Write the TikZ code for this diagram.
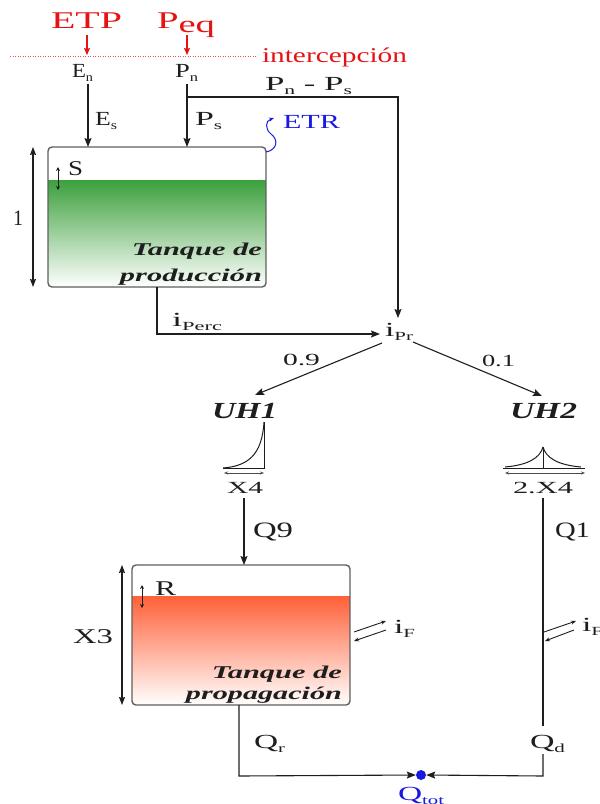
\documentclass[tikz,border=0pt]{standalone}
\usepackage{fontspec}
\setmainfont{Liberation Serif}
\usepackage{graphicx}
\usetikzlibrary{arrows.meta}
\newcommand\lsub[1]{\raisebox{-0.22em}{\scalebox{0.62}{#1}}}
\newcommand\fw[2]{\resizebox{#1pt}{\height}{#2}}
\definecolor{myred}{RGB}{228,20,20}
\definecolor{myblue}{RGB}{25,25,225}
\definecolor{ink}{RGB}{30,30,30}
\definecolor{tankline}{RGB}{95,95,95}
\definecolor{green1}{RGB}{60,160,60}
\definecolor{green2}{RGB}{125,195,125}
\definecolor{orange1}{RGB}{255,96,56}
\definecolor{orange2}{RGB}{255,150,118}
\begin{document}
\begin{tikzpicture}[x=1pt,y=-1pt,
  lbl/.style={inner sep=0pt, outer sep=0pt, anchor=base west, text=ink, font=\fontsize{20}{24}\selectfont},
  lblr/.style={lbl, anchor=base east},
  tit/.style={lblr, font=\fontsize{18}{22}\selectfont\bfseries\itshape},
  uhlbl/.style={lbl, font=\fontsize{23}{27}\selectfont\bfseries\itshape},
  small/.style={lbl, font=\fontsize{17}{20}\selectfont},
  big/.style={lbl, font=\fontsize{22}{26}\selectfont},
  conn/.style={draw=ink, line width=1.1pt},
  arr/.style={conn, -{Stealth[length=9pt,width=7pt,inset=1.5pt]}},
  redarr/.style={draw=myred, line width=1.1pt, -{Stealth[length=7pt,width=6pt,inset=1pt]}},
  dimarr/.style={draw=ink, line width=1.1pt, {Stealth[length=8pt,width=6pt,inset=1pt]}-{Stealth[length=8pt,width=6pt,inset=1pt]}},
  levarr/.style={draw=ink, line width=0.9pt, {Stealth[length=4pt,width=4pt]}-{Stealth[length=4pt,width=4pt]}},
  uharr/.style={draw=ink!80, line width=0.8pt, {Stealth[length=4pt,width=3pt]}-{Stealth[length=4pt,width=3pt]}},
  graph/.style={draw=ink, line width=1pt},
  exarr/.style={draw=ink, line width=0.9pt, -{Stealth[length=5pt,width=4pt]}},
  tankbox/.style={draw=tankline, line width=1.4pt, rounded corners=4pt, minimum width=218pt, minimum height=140pt, inner sep=0pt, outer sep=0pt}
]
\useasboundingbox (0,0) rectangle (600,804);

% ---------- top inputs ----------
\node[lbl, text=myred, font=\fontsize{24}{28}\selectfont] (etp) at (51,28) {\fw{71}{ETP}};
\node[lbl, text=myred, font=\fontsize{24}{28}\selectfont] (peq) at (157,28) {\fw{58}{P\raisebox{-4pt}{eq}}};
\coordinate (dl) at (10,56);
\coordinate (dr) at (256,56);
\draw[draw=myred!75, line width=0.9pt, dash pattern=on 1.2pt off 1.3pt] (dl) -- (dr);
\node[lbl, text=myred, font=\fontsize{21}{25}\selectfont] (interc) at (262,62) {\fw{145}{intercepción}};
\coordinate (etp-a) at (87,35);
\coordinate (etp-b) at (87,55);
\coordinate (peq-a) at (187,35);
\coordinate (peq-b) at (187,55);
\draw[redarr] (etp-a) -- (etp-b);
\draw[redarr] (peq-a) -- (peq-b);

\node[lbl] (en) at (72,77) {\fw{21}{E\lsub{n}}};
\node[lbl] (pn) at (175,77) {\fw{23}{P\lsub{n}}};
\node[lbl] (es) at (95,125) {\fw{22}{E\lsub{s}}};
\node[lbl] (ps) at (195,125) {\fw{27}{P\lsub{s}}};
\node[lbl] (pnps) at (265,90) {\fw{87}{P\lsub{n} - P\lsub{s}}};
\node[lbl, text=myblue] (etr) at (283,128) {\fw{57}{ETR}};

% ---------- production tank ----------
\begin{scope}
  \clip[rounded corners=4pt] (48,147) rectangle (266,287);
  \shade[top color=green1, middle color=green2, bottom color=white] (48,180) rectangle (266,287);
\end{scope}
\node[tankbox] (prod) at (157,217) {};
\node[tit] (prod1) at (262,255) {\fw{130}{Tanque de}};
\node[tit] (prod2) at (262,281) {\fw{142}{producción}};
\node[lbl, font=\fontsize{21}{25}\selectfont] (slbl) at (68,175) {\fw{15}{S}};
\node[lbl, font=\fontsize{22}{26}\selectfont] (one) at (13,225) {\fw{10}{1}};
\coordinate (s-a) at (58,167);
\coordinate (s-b) at (58,190);
\draw[levarr] (s-a) -- (s-b);
\draw[dimarr] ([xshift=-15pt]prod.north west) -- ([xshift=-15pt]prod.south west);

\coordinate (en-out) at (88,84);
\coordinate (pn-out) at (187,84);
\coordinate (pn-br) at (187,97);
\coordinate (br-corner) at (398,97);
\draw[arr] (en-out) -- (en-out |- prod.north);
\draw[arr] (pn-out) -- (pn-out |- prod.north);

% ETR squiggle
\coordinate (etr-s) at (266,152);
\coordinate (etr-m) at (271,134);
\coordinate (etr-e) at (274,118);
\draw[draw=myblue, line width=1pt, -{Stealth[length=5pt,width=4pt]}] (etr-s) .. controls (277,150) and (279,140) .. (etr-m) .. controls (265,129) and (265,121) .. (etr-e);

% ---------- routing ----------
\node[lbl] (ipr) at (385,336) {\fw{28}{i\lsub{Pr}}};
\draw[arr] (pn-br) -- (br-corner) -- (br-corner |- 0,318);
\coordinate (perc-a) at (157,287);
\coordinate (perc-c) at (157,334);
\coordinate (perc-e) at (380,334);
\draw[arr] (perc-a) -- (perc-c) -- (perc-e);
\node[lbl] (iperc) at (172,326) {\fw{50}{i\lsub{Perc}}};

\node[small] (p09) at (283,365) {\fw{37}{0.9}};
\node[small] (p01) at (482,366) {\fw{33}{0.1}};
\node[uhlbl] (uh1) at (212,418) {\fw{65}{UH1}};
\node[uhlbl] (uh2) at (510,418) {\fw{67}{UH2}};
\coordinate (ipr-l) at (382,343);
\coordinate (uh1-in) at (255,395);
\coordinate (ipr-r) at (413,342);
\coordinate (uh2-in) at (542,396);
\draw[arr] (ipr-l) -- (uh1-in);
\draw[arr] (ipr-r) -- (uh2-in);

% UH1 shape
\coordinate (u1-o) at (223,468);
\coordinate (u1-c) at (264,468);
\coordinate (u1-t) at (264,422);
\draw[graph] (u1-o) -- (u1-c) -- (u1-t);
\draw[graph] (u1-o) .. controls (248,466) and (262,455) .. (u1-t);
\coordinate (u1-al) at (224,473);
\coordinate (u1-ar) at (264,473);
\draw[uharr] (u1-al) -- (u1-ar);
\node[small] (x4) at (227,493) {\fw{36}{X4}};

% UH2 shape
\coordinate (u2-l) at (503,468);
\coordinate (u2-r) at (585,468);
\coordinate (u2-c) at (543,468);
\coordinate (u2-t) at (543,447);
\draw[graph] (u2-l) -- (u2-r);
\draw[graph] (u2-c) -- (u2-t);
\draw[graph] (505,467) .. controls (528,465) and (540,458) .. (u2-t);
\draw[graph] (581,467) .. controls (558,465) and (546,458) .. (u2-t);
\coordinate (u2-al) at (505,473);
\coordinate (u2-ar) at (585,473);
\draw[uharr] (u2-al) -- (u2-ar);
\node[small] (x42) at (513,493) {\fw{60}{2.X4}};

% ---------- propagation tank ----------
\begin{scope}
  \clip[rounded corners=4pt] (132,565) rectangle (350,705);
  \shade[top color=orange1, middle color=orange2, bottom color=white] (132,596) rectangle (350,705);
\end{scope}
\node[tankbox] (prop) at (241,635) {};
\node[tit] (prop1) at (342,678) {\fw{130}{Tanque de}};
\node[tit] (prop2) at (342,699) {\fw{156}{propagación}};
\node[lbl, font=\fontsize{21}{25}\selectfont] (rlbl) at (155,595) {\fw{21}{R}};
\node[lbl, font=\fontsize{21}{25}\selectfont] (x3) at (73,643) {\fw{40}{X3}};
\coordinate (r-a) at (142,585);
\coordinate (r-b) at (142,608);
\draw[levarr] (r-a) -- (r-b);
\draw[dimarr] ([xshift=-10pt]prop.north west) -- ([xshift=-10pt]prop.south west);

\node[big] (q9) at (253,537) {\fw{40}{Q9}};
\node[big] (q1) at (555,537) {\fw{35}{Q1}};
\coordinate (q9-a) at (244,498);
\draw[arr] (q9-a) -- (q9-a |- prop.north);

% exchanges iF
\coordinate (f1-a) at (354,632);
\coordinate (f1-b) at (386,621);
\coordinate (f1-c) at (386,630);
\coordinate (f1-d) at (354,641);
\draw[exarr] (f1-a) -- (f1-b);
\draw[exarr] (f1-c) -- (f1-d);
\node[lbl] (if1) at (394,633) {\fw{21}{i\lsub{F}}};
\coordinate (f2-a) at (544,632);
\coordinate (f2-b) at (576,621);
\coordinate (f2-c) at (574,630);
\coordinate (f2-d) at (545,641);
\draw[exarr] (f2-a) -- (f2-b);
\draw[exarr] (f2-c) -- (f2-d);
\node[lbl] (if2) at (582,631) {\fw{21}{i\lsub{F}}};

% ---------- outputs ----------
\node[lbl] (qr) at (254,748) {\fw{31}{Q\lsub{r}}};
\node[lbl] (qd) at (530,748) {\fw{35}{Q\lsub{d}}};
\node[lbl, text=myblue] (qtot) at (398,800) {\fw{46}{Q\lsub{tot}}};
\node[circle, fill=myblue, inner sep=0pt, minimum size=10pt] (dot) at (421,775) {};
\coordinate (q1-a) at (543,498);
\coordinate (q1-b) at (543,726);
\coordinate (qd-b) at (543,754);
\coordinate (qd-c) at (543,776);
\coordinate (qr-a) at (239,705);
\coordinate (qr-c) at (239,776);
\draw[conn] (q1-a) -- (q1-b);
\draw[arr] (qd-b) -- (qd-c) -- (dot.east);
\draw[arr] (qr-a) -- (qr-c) -- (dot.west);
\end{tikzpicture}
\end{document}
